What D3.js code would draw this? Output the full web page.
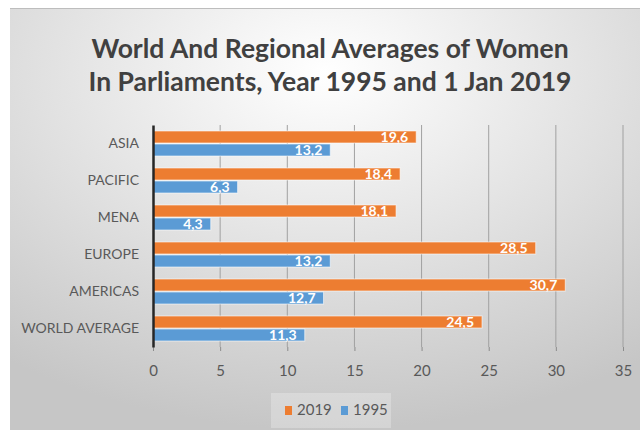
<!DOCTYPE html>
<html>
<head>
<meta charset="utf-8">
<script src="https://cdn.jsdelivr.net/npm/d3@7"></script>
<style>
  body { margin: 0; background: #fff; }
  svg { display: block; }
  text { font-family: Lato, "Open Sans", sans-serif; }
</style>
</head>
<body>
<div class="container"></div>
<script>
var SVG_WIDTH = 640, SVG_HEIGHT = 430;

var regions = ["ASIA", "PACIFIC", "MENA", "EUROPE", "AMERICAS", "WORLD AVERAGE"];
var seriesNames = ["2019", "1995"];
var values2019 = [19.6, 18.4, 18.1, 28.5, 30.7, 24.5];
var values1995 = [13.2, 6.3, 4.3, 13.2, 12.7, 11.3];
var seriesColors = ["#ED7D31", "#5B9BD5"];
var xTicks = [0, 5, 10, 15, 20, 25, 30, 35];
var titleLines = ["World And Regional Averages of Women", "In Parliaments, Year 1995 and 1 Jan 2019"];

var rows = regions.map(function (r, i) {
    return { region: r, values: [
        { key: "2019", value: values2019[i] },
        { key: "1995", value: values1995[i] }
    ] };
});

var svg = d3.select(".container").append("svg")
    .attr("width", SVG_WIDTH)
    .attr("height", SVG_HEIGHT);

var defs = svg.append("defs");
var grad = defs.append("radialGradient")
    .attr("id", "bg")
    .attr("cx", "50%").attr("cy", "15%").attr("r", "85%");
grad.append("stop").attr("offset", "0%").attr("stop-color", "#ffffff");
grad.append("stop").attr("offset", "100%").attr("stop-color", "#c6c6c6");

// chart area background
svg.append("rect")
    .attr("x", 10).attr("y", 8)
    .attr("width", SVG_WIDTH - 10).attr("height", SVG_HEIGHT - 8)
    .attr("fill", "url(#bg)");
svg.append("line")
    .attr("x1", 10).attr("x2", SVG_WIDTH)
    .attr("y1", 8.5).attr("y2", 8.5)
    .attr("stroke", "#bdbdbd");

// title
svg.append("g").selectAll("text")
    .data(titleLines)
    .enter().append("text")
    .attr("x", 330)
    .attr("y", function (d, i) { return 58 + i * 33; })
    .attr("text-anchor", "middle")
    .attr("font-size", 26.5)
    .attr("font-weight", "bold")
    .attr("fill", "#404040")
    .text(function (d) { return d; });

var x = d3.scaleLinear().domain([0, 35]).range([153, 623]);
var y = d3.scaleBand().domain(regions).range([125, 347]);
var ySub = d3.scaleBand().domain(seriesNames)
    .range([0, y.bandwidth()])
    .paddingInner(0.077)
    .paddingOuter(0.46);

// bottom ticks + labels
var xAxis = svg.append("g")
    .attr("transform", "translate(0,347)")
    .call(d3.axisBottom(x)
        .tickValues(xTicks)
        .tickSize(4)
        .tickPadding(14)
        .tickFormat(d3.format("d")));
xAxis.select(".domain").remove();
xAxis.selectAll(".tick line").attr("stroke", "#8c8c8c");
xAxis.selectAll(".tick text")
    .attr("font-size", 15)
    .attr("fill", "#595959")
    .attr("font-family", "Lato, sans-serif");

// vertical gridlines
svg.append("g").selectAll("line")
    .data(xTicks.slice(1))
    .enter().append("line")
    .attr("x1", function (d) { return x(d); })
    .attr("x2", function (d) { return x(d); })
    .attr("y1", 125).attr("y2", 347)
    .attr("stroke", "#a0a0a0")
    .attr("stroke-width", 1);

// bars
var groups = svg.append("g").selectAll("g")
    .data(rows)
    .enter().append("g")
    .attr("transform", function (d) { return "translate(0," + y(d.region) + ")"; });

groups.selectAll("rect")
    .data(function (d) { return d.values; })
    .enter().append("rect")
    .attr("x", x(0))
    .attr("y", function (d) { return ySub(d.key); })
    .attr("width", function (d) { return x(d.value) - x(0); })
    .attr("height", ySub.bandwidth())
    .attr("fill", function (d) { return seriesColors[seriesNames.indexOf(d.key)]; })
    .attr("stroke", "rgba(255,255,255,0.6)")
    .attr("stroke-width", 1);

var commaFmt = function (v) { return d3.format(".1f")(v).replace(".", ","); };

groups.selectAll("text")
    .data(function (d) { return d.values; })
    .enter().append("text")
    .attr("x", function (d) { return x(d.value) - 8; })
    .attr("y", function (d) { return ySub(d.key) + ySub.bandwidth() / 2; })
    .attr("dy", "0.36em")
    .attr("text-anchor", "end")
    .attr("font-size", 14)
    .attr("font-weight", "bold")
    .attr("fill", "#ffffff")
    .text(function (d) { return commaFmt(d.value); });

// category axis
var yAxis = svg.append("g")
    .attr("transform", "translate(" + x(0) + ",0)")
    .call(d3.axisLeft(y).tickSize(0).tickPadding(14));
yAxis.select(".domain")
    .attr("stroke", "#262626")
    .attr("stroke-width", 2.5);
yAxis.selectAll(".tick text")
    .attr("font-size", 14)
    .attr("fill", "#595959")
    .attr("font-family", "Lato, sans-serif");

// legend
var legend = svg.append("g").attr("transform", "translate(271,393)");
legend.append("rect")
    .attr("width", 120).attr("height", 35)
    .attr("fill", "rgba(255,255,255,0.25)");
var items = legend.selectAll("g.item")
    .data(seriesNames)
    .enter().append("g")
    .attr("class", "item")
    .attr("transform", function (d, i) { return "translate(" + (14 + i * 56) + ",0)"; });
items.append("rect")
    .attr("y", 13).attr("width", 7).attr("height", 9)
    .attr("fill", function (d, i) { return seriesColors[i]; });
items.append("text")
    .attr("x", 12).attr("y", 22)
    .attr("font-size", 15)
    .attr("fill", "#595959")
    .text(function (d) { return d; });
</script>
</body>
</html>
